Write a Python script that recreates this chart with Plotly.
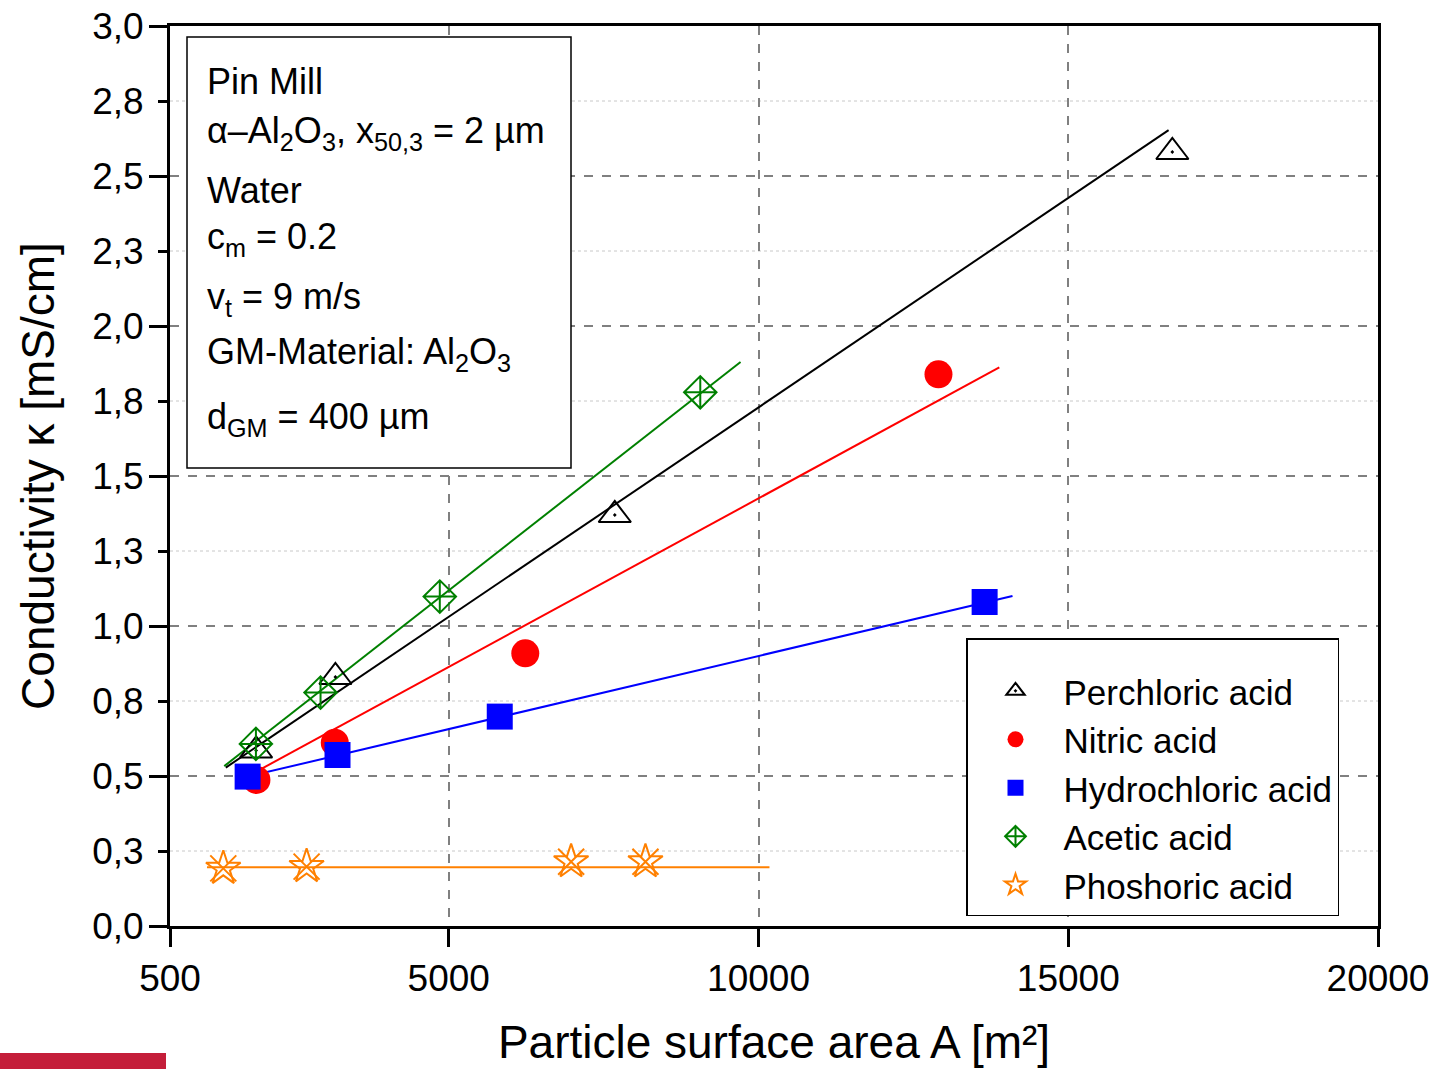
import plotly.graph_objects as go

# ---------------- data ----------------
perchloric_x = [1890, 3170, 7680, 16680]
perchloric_y = [0.585, 0.83, 1.37, 2.58]
perchloric_fit_x = [1400, 16620]
perchloric_fit_y = [0.528, 2.653]

nitric_x = [1895, 3160, 6235, 12905]
nitric_y = [0.487, 0.611, 0.909, 1.839]
nitric_fit_x = [1790, 13887]
nitric_fit_y = [0.503, 1.862]

hydrochloric_x = [1753, 3204, 5823, 13650]
hydrochloric_y = [0.498, 0.57, 0.698, 1.08]
hydrochloric_fit_x = [1753, 14100]
hydrochloric_fit_y = [0.498, 1.10]

acetic_x = [1887, 2930, 4855, 9060]
acetic_y = [0.607, 0.778, 1.098, 1.779]
acetic_fit_x = [1376, 9710]
acetic_fit_y = [0.533, 1.88]

phosphoric_x = [1360, 2705, 6975, 8175]
phosphoric_y = [0.192, 0.198, 0.214, 0.214]
phosphoric_fit_x = [1097, 10177]
phosphoric_fit_y = [0.196, 0.196]

x_tickvals = [500, 5000, 10000, 15000, 20000]
x_ticktext = ["500", "5000", "10000", "15000", "20000"]
y_tickvals = [0.0, 0.25, 0.5, 0.75, 1.0, 1.25, 1.5, 1.75, 2.0, 2.25, 2.5, 2.75, 3.0]
y_ticktext = ["0,0", "0,3", "0,5", "0,8", "1,0", "1,3", "1,5", "1,8", "2,0", "2,3", "2,5", "2,8", "3,0"]
y_major_grid = [0.0, 0.5, 1.0, 1.5, 2.0, 2.5, 3.0]

info_lines = [
    "Pin Mill",
    "α–Al<sub>2</sub>O<sub>3</sub>, x<sub>50,3</sub> = 2 µm",
    "Water",
    "c<sub>m</sub> = 0.2",
    "v<sub>t</sub> = 9 m/s",
    "GM-Material: Al<sub>2</sub>O<sub>3</sub>",
    "d<sub>GM</sub> = 400 µm",
]
# baseline pixel positions of each line in the info box
info_baselines_px = [93, 142, 202, 248, 308, 363, 428]

FONT = "Liberation Sans, Arial, sans-serif"

series = [
    ("Perchloric acid", perchloric_x, perchloric_y, perchloric_fit_x, perchloric_fit_y,
     "black", dict(symbol="triangle-up-open-dot", size=28, color="black", line=dict(width=2, color="black"))),
    ("Nitric acid", nitric_x, nitric_y, nitric_fit_x, nitric_fit_y,
     "#FF0000", dict(symbol="circle", size=28, color="#FF0000", line=dict(width=0))),
    ("Hydrochloric acid", hydrochloric_x, hydrochloric_y, hydrochloric_fit_x, hydrochloric_fit_y,
     "#0000FF", dict(symbol="square", size=26, color="#0000FF", line=dict(width=0))),
    ("Acetic acid", acetic_x, acetic_y, acetic_fit_x, acetic_fit_y,
     "#008000", dict(symbol="diamond-cross-open", size=25, color="#008000", line=dict(width=2, color="#008000"))),
    ("Phoshoric acid", phosphoric_x, phosphoric_y, phosphoric_fit_x, phosphoric_fit_y,
     "#FF8000", dict(symbol="star-open", size=26, color="#FF8000", line=dict(width=2, color="#FF8000"))),
]

fig = go.Figure()

# fit lines first (under markers)
for name, xs, ys, fx, fy, col, mk in series:
    fig.add_trace(go.Scatter(x=fx, y=fy, mode="lines", line=dict(color=col, width=2),
                             showlegend=False, hoverinfo="skip"))

for name, xs, ys, fx, fy, col, mk in series:
    fig.add_trace(go.Scatter(x=xs, y=ys, mode="markers", name=name, marker=mk))

# extra cross strokes of the phosphoric star symbol
fig.add_trace(go.Scatter(x=phosphoric_x, y=phosphoric_y, mode="markers", showlegend=False,
                         marker=dict(symbol="x-thin-open", size=26, color="#FF8000",
                                     line=dict(width=2, color="#FF8000")), hoverinfo="skip"))

W, H = 1434, 1069
L, R, T, B = 170, 56, 26, 143
plot_w = W - L - R
plot_h = H - T - B

shapes = []
# dotted minor gridlines at odd quarter values
for v in y_tickvals:
    if v not in y_major_grid:
        shapes.append(dict(type="line", xref="paper", yref="y", x0=0, x1=1, y0=v, y1=v,
                           line=dict(color="#C8C8C8", width=1, dash="dot"), layer="below"))
# info box
shapes.append(dict(type="rect", xref="paper", yref="paper",
                   x0=(187 - L) / plot_w, x1=(571 - L) / plot_w,
                   y0=(926 - 468) / plot_h, y1=(926 - 37) / plot_h,
                   line=dict(color="black", width=1.5), fillcolor="white", layer="above"))
# decorative red bar at bottom left
shapes.append(dict(type="rect", xref="paper", yref="paper",
                   x0=(0 - L) / plot_w, x1=(166 - L) / plot_w,
                   y0=(926 - 1069) / plot_h, y1=(926 - 1053) / plot_h,
                   line=dict(width=0), fillcolor="#C41E3A"))

annotations = []
fs_info = 36
for txt, bl in zip(info_lines, info_baselines_px):
    top_px = bl - 0.905 * fs_info - 1
    annotations.append(dict(text=txt, xref="paper", yref="paper",
                            x=(205 - L) / plot_w, y=(926 - top_px) / plot_h,
                            xanchor="left", yanchor="top", showarrow=False,
                            font=dict(family=FONT, size=fs_info, color="black"), align="left"))

fig.update_layout(
    width=W, height=H,
    margin=dict(l=L, r=R, t=T, b=B, autoexpand=False),
    plot_bgcolor="white", paper_bgcolor="white",
    font=dict(family=FONT, color="black", size=36),
    shapes=shapes,
    annotations=annotations,
    legend=dict(x=(966 - L) / plot_w, y=(926 - 638) / plot_h, xanchor="left", yanchor="top",
                bgcolor="white", bordercolor="black", borderwidth=1.5,
                font=dict(family=FONT, size=35, color="black"),
                title=dict(text=" ", font=dict(size=17)),
                itemwidth=86, tracegroupgap=0),
    xaxis=dict(range=[500, 20000], tickvals=x_tickvals, ticktext=x_ticktext,
               automargin=False,
               showline=True, linecolor="black", linewidth=3, mirror=True,
               ticks="outside", ticklen=18, tickwidth=3, tickcolor="black",
               tickfont=dict(family=FONT, size=37, color="black"),
               showgrid=True, gridcolor="#808080", gridwidth=1.5, griddash="dash",
               zeroline=False,
               title=dict(text="Particle surface area A [m²]", standoff=28,
                          font=dict(family=FONT, size=46, color="black"))),
    yaxis=dict(range=[0, 3.0], tickvals=y_tickvals, ticktext=y_ticktext,
               automargin=False,
               showline=True, linecolor="black", linewidth=3, mirror=True,
               ticks="outside", ticklen=9, tickwidth=3, tickcolor="black",
               ticklabelstandoff=7,
               tickfont=dict(family=FONT, size=37, color="black"),
               showgrid=False, zeroline=False,
               minor=dict(tickvals=y_major_grid, ticks="outside", ticklen=18, tickwidth=3,
                          tickcolor="black", showgrid=True, gridcolor="#808080",
                          gridwidth=1.5, griddash="dash"),
               title=dict(text="Conductivity κ [mS/cm]", standoff=24,
                          font=dict(family=FONT, size=46, color="black"))),
)

fig.write_html("out.html", config={"displayModeBar": False},
               post_script="document.body.style.margin='0';document.body.style.overflow='hidden';")
